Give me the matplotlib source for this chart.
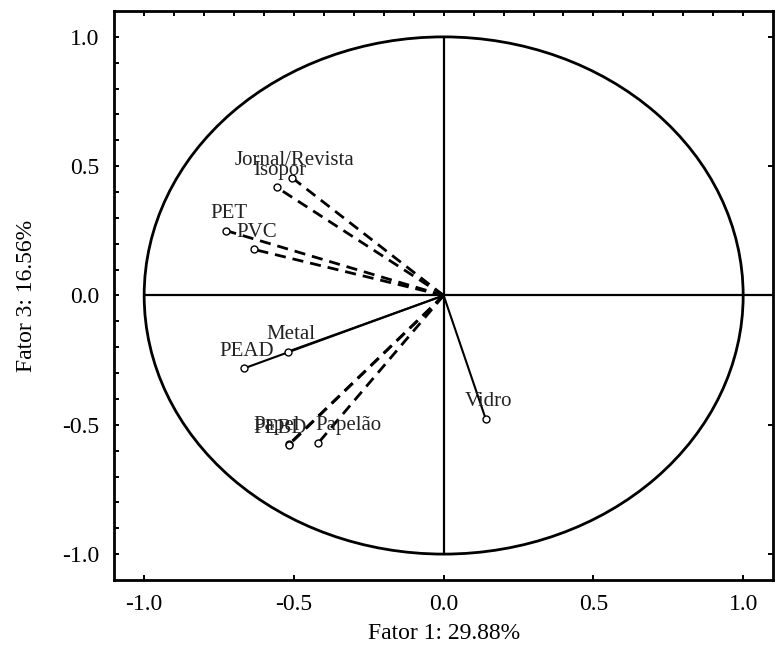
import numpy as np
import matplotlib
matplotlib.use("Agg")
import matplotlib.pyplot as plt
from matplotlib.patches import Ellipse

plt.rcParams['font.family'] = ['Liberation Serif', 'DejaVu Serif']
plt.rcParams['axes.unicode_minus'] = False

# loadings (Fator 1, Fator 3)
variables = ['Jornal/Revista', 'Isopor', 'PET', 'PVC', 'Metal', 'PEAD',
             'Papel', 'PEBD', 'Papelão', 'Vidro']
fator1 = [-0.507, -0.557, -0.727, -0.633, -0.520, -0.667,
          -0.517, -0.517, -0.420, 0.140]
fator3 = [0.456, 0.418, 0.251, 0.178, -0.217, -0.282,
          -0.576, -0.578, -0.572, -0.476]
dashed = [True, True, True, True, False, False, True, True, True, False]

tick_vals = [-1.0, -0.5, 0.0, 0.5, 1.0]
x_label = 'Fator 1: 29.88%'
y_label = 'Fator 3: 16.56%'

# label offsets in points (most labels sit centred just above the point)
label_offset = {'Papel': (-9, 13.5), 'PEBD': (-6, 11.5), 'Papelão': (22, 13)}
default_offset = (2, 12.5)

fig = plt.figure(figsize=(7.77, 6.48), dpi=100)
ax = fig.add_axes([0.147, 0.105, 0.848, 0.878])
ax.set_xlim(-1.1, 1.1)
ax.set_ylim(-1.1, 1.1)

# unit circle and cross
ax.add_patch(Ellipse((0, 0), 2, 2, fill=False, color='black', lw=2, zorder=2))
ax.hlines(0, -1, 1.1, color='black', lw=1.6, zorder=2)
ax.vlines(0, -1, 1, color='black', lw=1.6, zorder=2)

for name, x, y, d in zip(variables, fator1, fator3, dashed):
    if d:
        ax.plot([0, x], [0, y], color='black', lw=2, ls=(0, (4, 2.5)), zorder=3)
    else:
        ax.plot([0, x], [0, y], color='black', lw=1.5, zorder=3)
    ax.plot(x, y, marker='o', ms=5, mfc='white', mec='black', mew=1, zorder=4)
    ax.annotate(name, (x, y), xytext=label_offset.get(name, default_offset),
                textcoords='offset points', ha='center', va='center',
                fontsize=15, color='#222222', zorder=5)

ax.set_xticks(tick_vals)
ax.set_yticks(tick_vals)
ax.set_xticklabels(['%.1f' % v for v in tick_vals])
ax.set_yticklabels(['%.1f' % v for v in tick_vals])
ax.set_xticks(np.arange(-1.0, 1.05, 0.1), minor=True)
ax.set_yticks(np.arange(-1.0, 1.05, 0.1), minor=True)

ax.tick_params(which='both', direction='in', length=3.5, width=1.4,
               labelsize=17, top=True, right=True)
ax.tick_params(axis='x', which='major', pad=10)
ax.tick_params(axis='y', which='major', pad=11)
ax.tick_params(axis='x', which='minor', bottom=False, top=True)
ax.tick_params(axis='y', which='minor', left=True, right=False)

for s in ax.spines.values():
    s.set_linewidth(2)

ax.set_xlabel(x_label, fontsize=17, labelpad=6)
ax.set_ylabel(y_label, fontsize=17, labelpad=18)

fig.savefig('out.png', dpi=100)
